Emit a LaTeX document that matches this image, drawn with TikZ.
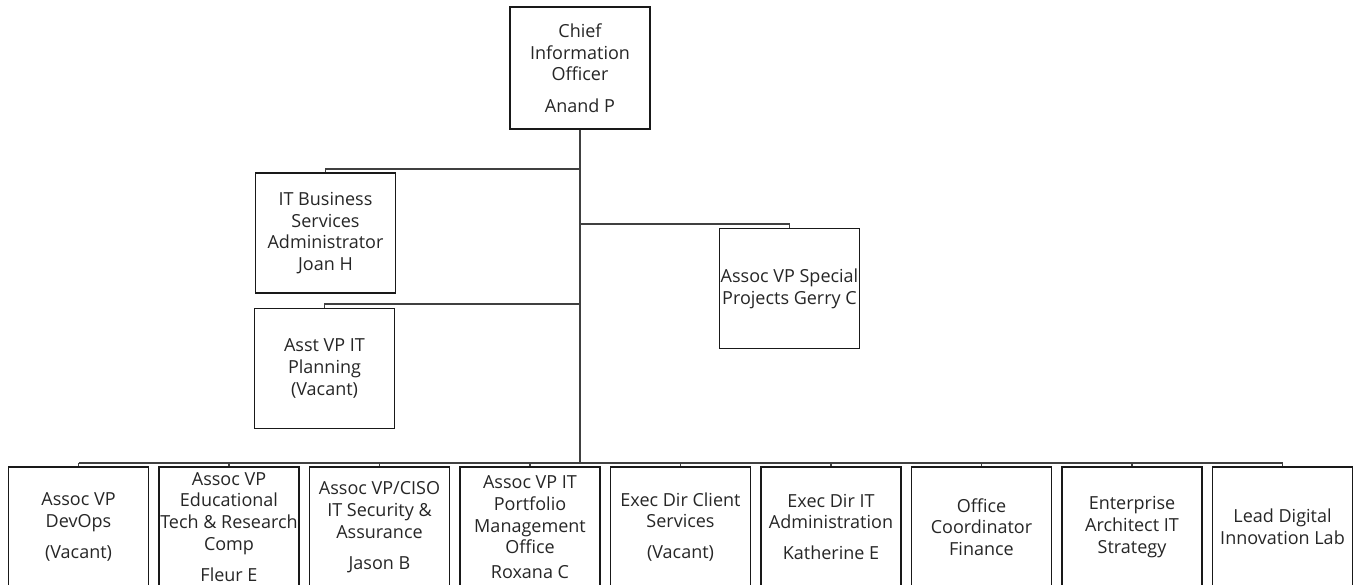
\documentclass[tikz,border=0pt]{standalone}
\usepackage{fontspec}
\setmainfont{Open Sans}
\usetikzlibrary{positioning,calc}

\begin{document}
\begin{tikzpicture}[x=0.75pt,y=-0.75pt,
    post/.style={draw=black!90, line width=1.2pt, fill=white, minimum width=105pt, minimum height=90pt,
        align=center, inner sep=0pt, text=black!85, font=\fontsize{13.5}{16.3}\selectfont},
    link/.style={draw=black!75, line width=1.2pt}]
    \useasboundingbox (0,0) rectangle (1356,585);

    % Chief
    \node[post, minimum height=91.5pt] (cio) at (580,68) {Chief\\Information\\Officer\\[7pt]Anand P};

    % Staff on the side
    \node[post] (biz) at (325.5,233) {IT Business\\Services\\Administrator\\Joan H};
    \node[post] (plan) at (324.5,368.5) {Asst VP IT\\Planning\\(Vacant)};
    \node[post] (spec) at (789.5,288.5) {Assoc VP Special\\Projects Gerry C};

    % Direct reports
    \node[post] (devops) at (78.5,527) {Assoc VP\\DevOps\\[7pt](Vacant)};
    \node[post] (edtech) at (229,527) {Assoc VP\\Educational\\Tech \& Research\\Comp\\[7pt]Fleur E};
    \node[post] (ciso) at (379.5,527) {Assoc VP/CISO\\IT Security \&\\Assurance\\[7pt]Jason B};
    \node[post] (pmo) at (530,527) {Assoc VP IT\\Portfolio\\Management\\Office\\[2pt]Roxana C};
    \node[post] (client) at (680.5,527) {Exec Dir Client\\Services\\[7pt](Vacant)};
    \node[post] (admin) at (831,527) {Exec Dir IT\\Administration\\[7pt]Katherine E};
    \node[post] (finance) at (981.5,527) {Office\\Coordinator\\Finance};
    \node[post] (arch) at (1132,527) {Enterprise\\Architect IT\\Strategy};
    \node[post] (lab) at (1282.5,527) {Lead Digital\\Innovation Lab};

    % Trunk and junctions
    \coordinate (j1) at (580,169);
    \coordinate (j2) at (580,224);
    \coordinate (j3) at (580,304);
    \coordinate (bus) at (580,463);
    \draw[link, line width=1.6pt] (cio) -- (bus);

    % Side links
    \draw[link] (j1) -| (biz.north);
    \draw[link] (j3) -| (plan.north);
    \draw[link] (j2) -| (spec.north);

    % Bus to the bottom row
    \draw[link] (devops.north |- bus) -- (lab.north |- bus);
    \foreach \b in {devops,edtech,ciso,pmo,client,admin,finance,arch,lab}
        \draw[link] (\b.north |- bus) -- (\b.north);

\end{tikzpicture}
\end{document}
